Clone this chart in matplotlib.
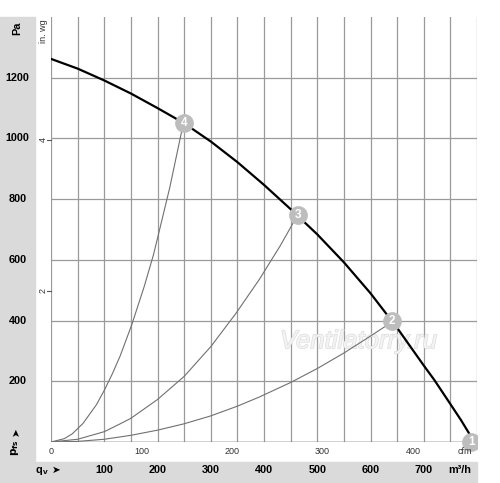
import matplotlib
matplotlib.use('Agg')
import matplotlib.pyplot as plt
import matplotlib.transforms as mtransforms
import matplotlib.patheffects as pe
from matplotlib.patches import Rectangle

plt.rcParams['font.family'] = ['Liberation Sans', 'DejaVu Sans']

# fan curve, flow in m3/h, static pressure in Pa
q_main = [0, 50, 100, 150, 200, 250, 300, 350, 400, 450, 500, 550, 600, 650, 700, 720, 750, 770, 795]
p_main = [1262, 1230, 1191, 1148, 1100, 1050, 990, 922, 847, 767, 684, 592, 490, 376, 252, 204, 125, 72, 0]

# system curves
q_sys4 = [0, 25, 40, 60, 85, 100, 115, 130, 152, 175, 192, 200, 223, 248]
p_sys4 = [0, 11, 27, 61, 122, 170, 224, 284, 388, 512, 614, 671, 838, 1045]
q_sys3 = [0, 50, 100, 130, 150, 200, 250, 300, 347, 391, 430, 463]
p_sys3 = [0, 9, 34, 60, 78, 140, 216, 314, 423, 535, 645, 747]
q_sys2 = [0, 50, 100, 150, 200, 250, 300, 350, 391, 450, 500, 550, 600, 641]
p_sys2 = [0, 2, 9, 22, 39, 60, 86, 118, 148, 196, 242, 293, 349, 396]

# operating points
op_labels = ['1', '2', '3', '4']
op_q = [789, 640, 463, 250]
op_p = [0, 398, 747, 1050]

pa_ticks = [200, 400, 600, 800, 1000, 1200]
m3h_ticks = [100, 200, 300, 400, 500, 600, 700]
cfm_ticks = [0, 100, 200, 300, 400]
inwg_ticks = [2, 4]

W, H = 500, 483
fig = plt.figure(figsize=(W / 100, H / 100), dpi=100)
ax = fig.add_axes([51 / W, 41 / H, 426 / W, 425 / H])

# grey label bands
band = '#dadada'
fig.patches.append(Rectangle((0, 21 / H), 35 / W, 445 / H, transform=fig.transFigure,
                             color=band, zorder=0))
fig.patches.append(Rectangle((0, 1 / H), 477 / W, 20 / H, transform=fig.transFigure,
                             color=band, zorder=0))

ax.set_xlim(0, 800)
ax.set_ylim(0, 1400)
ax.set_xticks(range(0, 801, 50))
ax.set_yticks(range(0, 1201, 200))
ax.grid(True, color='#9a9a9a', lw=0.9)
ax.set_axisbelow(True)
ax.tick_params(length=0, labelbottom=False, labelleft=False)
for s in ax.spines.values():
    s.set_visible(False)
ax.axhline(0, color='#555555', lw=1.0, zorder=2)

# watermark
ax.text(578, 332, 'Ventilatorry.ru', fontsize=18.5, style='italic', color='#f3f3f3',
        ha='center', va='center', zorder=1.5,
        path_effects=[pe.withStroke(linewidth=1.0, foreground='#dddddd')])

# curves
for qs, ps in [(q_sys4, p_sys4), (q_sys3, p_sys3), (q_sys2, p_sys2)]:
    ax.plot(qs, ps, color='#707070', lw=0.8, zorder=3)
ax.plot(q_main, p_main, color='black', lw=1.6, zorder=4)

clip = Rectangle((0, -0.1), 1, 1.2, transform=ax.transAxes, fill=False, visible=False)
ax.add_patch(clip)
for lab, q, p in zip(op_labels, op_q, op_p):
    m, = ax.plot(q, p, 'o', ms=13.5, mfc='#bdbdbd', mec='none', zorder=5, clip_on=True)
    m.set_clip_path(clip)
    t = ax.text(q, p, lab, color='white', fontsize=8.5, fontweight='bold',
                ha='center', va='center', zorder=6, clip_on=True)
    t.set_clip_path(clip)

# left band labels (Pa)
tr_left = mtransforms.blended_transform_factory(fig.transFigure, ax.transData)
for v in pa_ticks:
    fig.text(17.5 / W, v, str(v), transform=tr_left, ha='center', va='center',
             fontsize=7.8, fontweight='bold')
fig.text(17 / W, (H - 28) / H, 'Pa', rotation=90, ha='center', va='center',
         fontsize=7.8, fontweight='bold')
fig.text(15 / W, (H - 448) / H, r'$\mathbf{p_{fs}}$', rotation=90, ha='center',
         va='center', fontsize=7.5)
fig.text(16 / W, (H - 432) / H, '➤', rotation=90, ha='center', va='center',
         fontsize=7.5, family='DejaVu Sans')

# in. wg scale
tr_tick = mtransforms.blended_transform_factory(ax.transAxes, ax.transData)
for v in inwg_ticks:
    pa = v * 249.09
    ax.plot([-0.009, 0], [pa, pa], color='#555555', lw=0.8, transform=tr_tick, clip_on=False)
    fig.text(43 / W, pa, str(v), transform=tr_left, rotation=90, ha='center',
             va='center', fontsize=6.5, color='#333333')
fig.text(43 / W, (H - 31) / H, 'in. wg', rotation=90, ha='center', va='center',
         fontsize=6.5, color='#333333')

# bottom labels (m3/h)
tr_bot = mtransforms.blended_transform_factory(ax.transData, fig.transFigure)
for v in m3h_ticks:
    fig.text(v, (H - 470) / H, str(v), transform=tr_bot, ha='center', va='center',
             fontsize=7.8, fontweight='bold')
fig.text(460 / W, (H - 470) / H, 'm³/h', ha='center', va='center',
         fontsize=7.8, fontweight='bold')
fig.text(36 / W, (H - 470) / H, 'q', ha='left', va='center', fontsize=7.8, fontweight='bold')
fig.text(43 / W, (H - 472) / H, 'v', ha='left', va='center', fontsize=6, fontweight='bold')
fig.text(56 / W, (H - 470) / H, '➤', ha='center', va='center', fontsize=7.5,
         family='DejaVu Sans')

# cfm scale
for v in cfm_ticks:
    fig.text(v * 1.699, (H - 451) / H, str(v), transform=tr_bot, ha='center',
             va='center', fontsize=6.5, color='#333333')
fig.text(465 / W, (H - 451) / H, 'cfm', ha='center', va='center', fontsize=6.5,
         color='#333333')

fig.savefig('out.png', dpi=100)
